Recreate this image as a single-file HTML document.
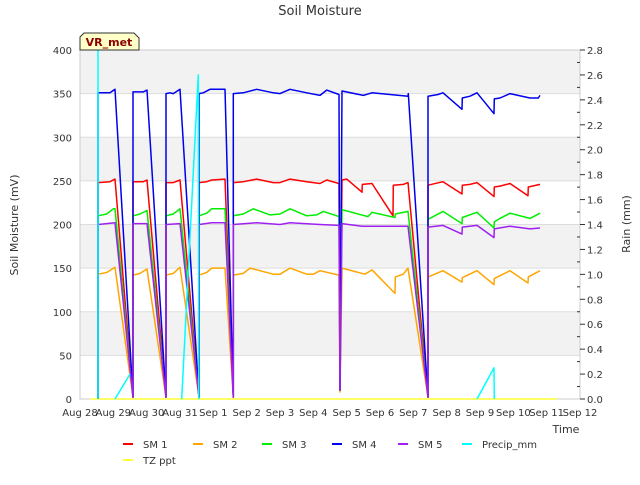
<!DOCTYPE html>
<html><head><meta charset="utf-8"><style>
body{margin:0;background:#fff}
svg text{font-family:"DejaVu Sans","Liberation Sans",sans-serif}
</style></head><body>
<svg id="c" width="640" height="480" viewBox="0 0 640 480">
<text x="320" y="15" text-anchor="middle" font-size="13" fill="#333">Soil Moisture</text>
<g id="bands"></g><g id="axes"></g><g id="series"></g>
<text transform="translate(18,225) rotate(-90)" text-anchor="middle" font-size="11" fill="#333">Soil Moisture (mV)</text>
<text transform="translate(630,224) rotate(-90)" text-anchor="middle" font-size="11" fill="#333">Rain (mm)</text>
<text x="566" y="433" text-anchor="middle" font-size="11" fill="#333">Time</text>
<g><path d="M84,33 H134 L139,38 V50 H80 V37 Z" fill="#ffffc8" stroke="#333" stroke-width="1"/><text x="109" y="46" text-anchor="middle" font-size="11" font-weight="bold" fill="#8b0000">VR_met</text></g>
<g id="legend"></g>
</svg>
<script>
const xTickLabels=["Aug 28","Aug 29","Aug 30","Aug 31","Sep 1","Sep 2","Sep 3","Sep 4","Sep 5","Sep 6","Sep 7","Sep 8","Sep 9","Sep 10","Sep 11","Sep 12"];
const yTicks=[0,50,100,150,200,250,300,350,400];
const y2Ticks=[0,0.2,0.4,0.6,0.8,1.0,1.2,1.4,1.6,1.8,2.0,2.2,2.4,2.6,2.8];
const sm1=[[0.54,0],[0.54,248],[0.9,249],[1.05,252],[1.59,2],[1.59,249],[1.9,249],[2.01,251],[2.58,2],[2.58,248],[2.8,248],[3.0,251],[3.57,2],[3.57,248],[3.8,249],[3.95,251],[4.35,252],[4.6,2],[4.6,248],[4.9,249],[5.3,252],[5.8,248],[6.0,248],[6.3,252],[6.8,249],[7.2,247],[7.4,251],[7.77,247],[7.8,10],[7.86,251],[8.0,252],[8.46,237],[8.47,246],[8.76,247],[9.39,210],[9.4,245],[9.7,246],[9.84,248],[10.44,2],[10.44,245],[10.89,249],[11.46,235],[11.47,245],[11.7,246],[11.91,248],[12.42,232],[12.43,243],[12.6,244],[12.9,247],[13.44,233],[13.45,243],[13.8,246]];
const sm2=[[0.54,0],[0.54,143],[0.8,145],[1.05,151],[1.59,2],[1.59,142],[1.8,144],[2.01,149],[2.58,2],[2.58,142],[2.8,144],[3.0,151],[3.57,2],[3.57,142],[3.8,145],[3.95,150],[4.35,150],[4.6,2],[4.6,142],[4.9,144],[5.1,150],[5.8,143],[6.0,143],[6.3,150],[6.8,143],[7.0,143],[7.2,147],[7.77,142],[7.8,8],[7.86,150],[8.55,143],[8.76,148],[9.45,121],[9.46,140],[9.7,143],[9.84,150],[10.44,2],[10.44,140],[10.89,147],[11.46,134],[11.47,139],[11.91,147],[12.42,131],[12.43,138],[12.9,147],[13.44,133],[13.45,140],[13.8,147]];
const sm3=[[0.54,0],[0.54,210],[0.8,212],[1.0,218],[1.05,218],[1.59,2],[1.59,210],[1.8,212],[2.01,216],[2.58,2],[2.58,210],[2.8,212],[3.0,218],[3.57,2],[3.57,210],[3.8,213],[3.95,218],[4.35,218],[4.6,2],[4.6,210],[4.9,212],[5.2,218],[5.7,211],[6.0,212],[6.3,218],[6.8,210],[7.1,211],[7.3,215],[7.77,209],[7.8,10],[7.86,217],[8.64,209],[8.76,214],[9.45,208],[9.46,212],[9.84,215],[10.44,2],[10.44,206],[10.89,215],[11.46,201],[11.47,208],[11.91,214],[12.42,196],[12.43,203],[12.6,207],[12.9,213],[13.5,207],[13.8,213]];
const sm4=[[0.54,0],[0.54,351],[0.9,351],[1.05,355],[1.59,2],[1.59,352],[1.9,352],[2.01,354],[2.58,2],[2.58,350],[2.7,351],[2.8,350],[3.0,355],[3.57,2],[3.57,350],[3.7,351],[3.9,355],[4.35,355],[4.6,2],[4.6,350],[4.9,351],[5.3,355],[5.8,351],[6.0,350],[6.3,355],[6.8,351],[7.2,348],[7.4,354],[7.77,349],[7.8,10],[7.86,353],[8.5,348],[8.76,351],[9.84,347],[9.85,350],[10.44,2],[10.44,347],[10.74,349],[10.89,351],[11.46,332],[11.47,345],[11.7,347],[11.91,351],[12.42,327],[12.43,344],[12.6,345],[12.9,350],[13.5,345],[13.75,345],[13.8,348]];
const sm5=[[0.54,0],[0.54,200],[0.8,201],[1.05,202],[1.59,2],[1.59,201],[1.9,201],[2.01,201],[2.58,2],[2.58,200],[3.0,201],[3.57,2],[3.57,200],[3.95,202],[4.35,202],[4.6,2],[4.6,200],[5.3,202],[6.0,200],[6.3,202],[7.2,200],[7.77,199],[7.8,10],[7.86,201],[8.46,198],[9.84,198],[10.44,2],[10.44,197],[10.89,199],[11.46,189],[11.47,197],[11.91,199],[12.42,185],[12.43,195],[12.9,198],[13.5,195],[13.8,196]];
const precip=[[0.54,0],[0.54,2.8],null,[1.05,0],[1.5,0.2],null,[3.05,0],[3.55,2.6],[3.56,0],null,[11.91,0],[12.42,0.25],[12.43,0]];
const tzppt=[[0.3,0],[14.3,0]];
const NS="http://www.w3.org/2000/svg";
const X0=80,X1=580,Y0=399,Y1=50;
const xs=d=>X0+d*(X1-X0)/15;
const ys=v=>Y0-v*(Y0-Y1)/400;
const ys2=v=>Y0-v*(Y0-Y1)/2.8;
function mk(t,a,p){const e=document.createElementNS(NS,t);for(const k in a)e.setAttribute(k,a[k]);p.appendChild(e);return e;}
const bands=document.getElementById('bands'),axes=document.getElementById('axes'),ser=document.getElementById('series'),leg=document.getElementById('legend');
for(let i=0;i<8;i++){const v0=yTicks[i],v1=yTicks[i+1];const r=mk('rect',{x:X0,y:ys(v1),width:X1-X0,height:ys(v0)-ys(v1),fill:(i%2)?'#f2f2f2':'#ffffff'},bands);

}
yTicks.forEach(v=>{const l=mk('line',{x1:X0,x2:X1,y1:ys(v),y2:ys(v),stroke:'#dddddd'},bands);


const t=mk('text',{x:X0-8,y:ys(v)+4,'text-anchor':'end','font-size':10,fill:'#333'},axes);t.textContent=v;

});
mk('rect',{x:X0,y:Y1,width:X1-X0,height:Y0-Y1,fill:'none',stroke:'#cccccc'},axes);
xTickLabels.forEach((s,i)=>{const t=mk('text',{x:xs(i),y:416,'text-anchor':'middle','font-size':10,fill:'#333'},axes);t.textContent=s;

});
for(let k=0;k<=28;k++){const v=k/10;const y=ys2(v);mk('line',{x1:X1-(k%2?3:0),x2:X1+(k%2?0:5),y1:y,y2:y,stroke:'#333'},axes);}
y2Ticks.forEach(v=>{const t=mk('text',{x:X1+7,y:ys2(v)+4,'font-size':10,fill:'#333'},axes);t.textContent=v.toFixed(1);

});
function line(data,color,name,sc){
  let d='',pen=false;
  data.forEach(p=>{if(!p){pen=false;return;}d+=(pen?'L':'M')+xs(p[0]).toFixed(1)+','+sc(p[1]).toFixed(1);pen=true;});
  const p=mk('path',{d:d,fill:'none',stroke:color,'stroke-width':1.5,'stroke-linejoin':'round'},ser);
  
  }
line(tzppt,'#ffff33','tz-ppt-line',ys2);
line(sm2,'#ffa500','sm2-line',ys);
line(sm1,'#ff0000','sm1-line',ys);
line(sm3,'#00ee00','sm3-line',ys);
line(sm4,'#0000ee','sm4-line',ys);
line(sm5,'#a020f0','sm5-line',ys);
line(precip,'#00ffff','precip-line',ys2);
const items=[["SM 1","#ff0000",123,444],["SM 2","#ffa500",193,444],["SM 3","#00ee00",262,444],["SM 4","#0000ee",332,444],["SM 5","#a020f0",398,444],["Precip_mm","#00ffff",462,444],["TZ ppt","#ffff33",123,460]];
items.forEach(it=>{const g=mk('g',{},leg);


mk('line',{x1:it[2],x2:it[2]+10,y1:it[3],y2:it[3],stroke:it[1],'stroke-width':2},g);
const t=mk('text',{x:it[2]+20,y:it[3]+4,'font-size':10,fill:'#333'},g);t.textContent=it[0];});
</script>
</body></html>
